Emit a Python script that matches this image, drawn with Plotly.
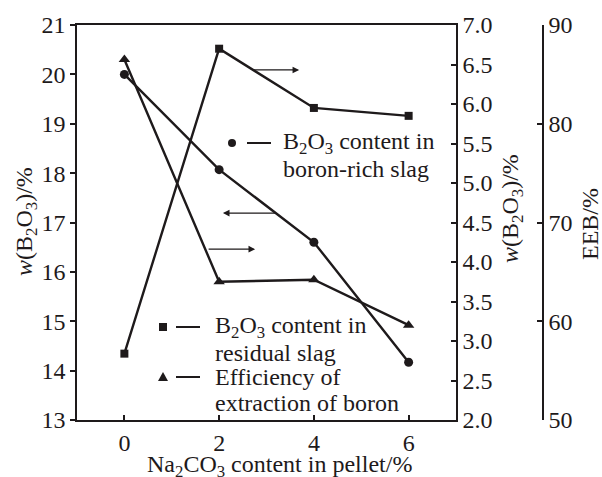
import plotly.graph_objects as go

# Na2CO3 addition in the pellet (%)
na2co3 = [0, 2, 4, 6]
# B2O3 content in boron-rich slag (%), left axis
b2o3_rich = [20.0, 18.07, 16.6, 14.17]
# B2O3 content in residual slag (%), first right axis
b2o3_residual = [2.84, 6.70, 5.95, 5.85]
# Efficiency of extraction of boron (%), second right axis
eeb = [86.5, 64.0, 64.2, 59.6]

INK = "#1e1a1b"
FONT = "Liberation Serif"
FS_TICK = 24
FS_TEXT = 24

# plot box geometry in pixels (used to place keys and titles)
W, H = 602, 477
L, R, T, B = 77, 59, 25, 57
PW, PH = W - L - R, H - T - B
X_END = 456  # right edge of the x axis


def px(x):
    return (x - L) / PW


def py(y):
    return (H - B - y) / PH


fig = go.Figure()

fig.add_trace(go.Scatter(
    x=na2co3, y=b2o3_rich, mode="lines+markers", yaxis="y",
    line=dict(color=INK, width=2.4),
    marker=dict(symbol="circle", size=9, color=INK),
    showlegend=False))

fig.add_trace(go.Scatter(
    x=na2co3, y=b2o3_residual, mode="lines+markers", yaxis="y2",
    line=dict(color=INK, width=2.4),
    marker=dict(symbol="square", size=8, color=INK),
    showlegend=False))

fig.add_trace(go.Scatter(
    x=na2co3, y=eeb, mode="lines+markers", yaxis="y3",
    line=dict(color=INK, width=2.4),
    marker=dict(symbol="triangle-up", size=10, color=INK),
    showlegend=False))

tickfont = dict(family=FONT, size=FS_TICK, color=INK)
axis_common = dict(showline=True, linecolor=INK, linewidth=1.5, showgrid=False,
                   zeroline=False, tickcolor=INK, tickwidth=1.5, ticklen=5,
                   tickfont=tickfont)

fig.update_layout(
    width=W, height=H,
    margin=dict(l=L, r=R, t=T, b=B, pad=0),
    paper_bgcolor="white", plot_bgcolor="white",
    font=dict(family=FONT, size=FS_TEXT, color=INK),
    xaxis=dict(domain=[0, (X_END - L) / PW], range=[-1, 7],
               tickvals=[0, 2, 4, 6], ticks="inside", mirror=True,
               **axis_common),
    yaxis=dict(range=[13, 21], dtick=1, ticks="outside", anchor="x",
               **axis_common),
    yaxis2=dict(range=[2, 7], dtick=0.5, tickformat=".1f", ticks="inside",
                side="right", overlaying="y", anchor="x", **axis_common),
    yaxis3=dict(range=[50, 90], dtick=10, ticks="inside", side="right",
                overlaying="y", anchor="free", position=1.0, **axis_common),
)

# arrows pointing each curve to its axis
arrow = dict(showarrow=True, arrowhead=2, arrowsize=1.1, arrowwidth=1.2,
             arrowcolor=INK, text="", axref="pixel", ayref="pixel", ay=0)
fig.add_annotation(x=3.69, y=20.09, xref="x", yref="y", ax=-47, **arrow)
fig.add_annotation(x=2.08, y=17.19, xref="x", yref="y", ax=54, **arrow)
fig.add_annotation(x=2.76, y=16.46, xref="x", yref="y", ax=-48, **arrow)

# hand-placed keys: symbol, short dash, two-line label
LINE_GAP = 26
keys = [
    ("circle", 232, 143, 247, 271, 281,
     ["B<sub>2</sub>O<sub>3</sub> content in", "boron-rich slag"]),
    ("square", 163, 327, 176, 200, 213,
     ["B<sub>2</sub>O<sub>3</sub> content in", "residual slag"]),
    ("triangle", 163, 377, 176, 200, 213,
     ["Efficiency of", "extraction of boron"]),
]
for sym, mx, my, d0, d1, tx, lines in keys:
    common = dict(xref="paper", yref="paper", xsizemode="pixel",
                  ysizemode="pixel", xanchor=px(mx), yanchor=py(my),
                  fillcolor=INK, line=dict(width=0))
    if sym == "circle":
        fig.add_shape(type="circle", x0=-4, x1=4, y0=-4, y1=4, **common)
    elif sym == "square":
        fig.add_shape(type="rect", x0=-4, x1=4, y0=-4, y1=4, **common)
    else:
        fig.add_shape(type="path", path="M -5 -4 L 5 -4 L 0 5 Z", **common)
    fig.add_shape(type="line", xref="paper", yref="paper",
                  x0=px(d0), x1=px(d1), y0=py(my), y1=py(my),
                  line=dict(color=INK, width=2))
    for i, line in enumerate(lines):
        fig.add_annotation(x=px(tx), y=py(my + i * LINE_GAP),
                           xref="paper", yref="paper",
                           text=line, showarrow=False, xanchor="left",
                           yanchor="middle", align="left",
                           font=dict(family=FONT, size=FS_TEXT, color=INK))

# axis titles
title_font = dict(family=FONT, size=FS_TEXT, color=INK)
centered = dict(xref="paper", yref="paper", showarrow=False,
                xanchor="center", yanchor="middle", font=title_font)
fig.add_annotation(x=px(26), y=py(222), textangle=-90,
                   text="<i>w</i>(B<sub>2</sub>O<sub>3</sub>)/%", **centered)
fig.add_annotation(x=px(512), y=py(209), textangle=-90,
                   text="<i>w</i>(B<sub>2</sub>O<sub>3</sub>)/%", **centered)
fig.add_annotation(x=px(590), y=py(224), textangle=-90,
                   text="EEB/%", **centered)
fig.add_annotation(x=px(279), y=py(466),
                   text="Na<sub>2</sub>CO<sub>3</sub> content in pellet/%",
                   **centered)

fig.write_html("out.html")
